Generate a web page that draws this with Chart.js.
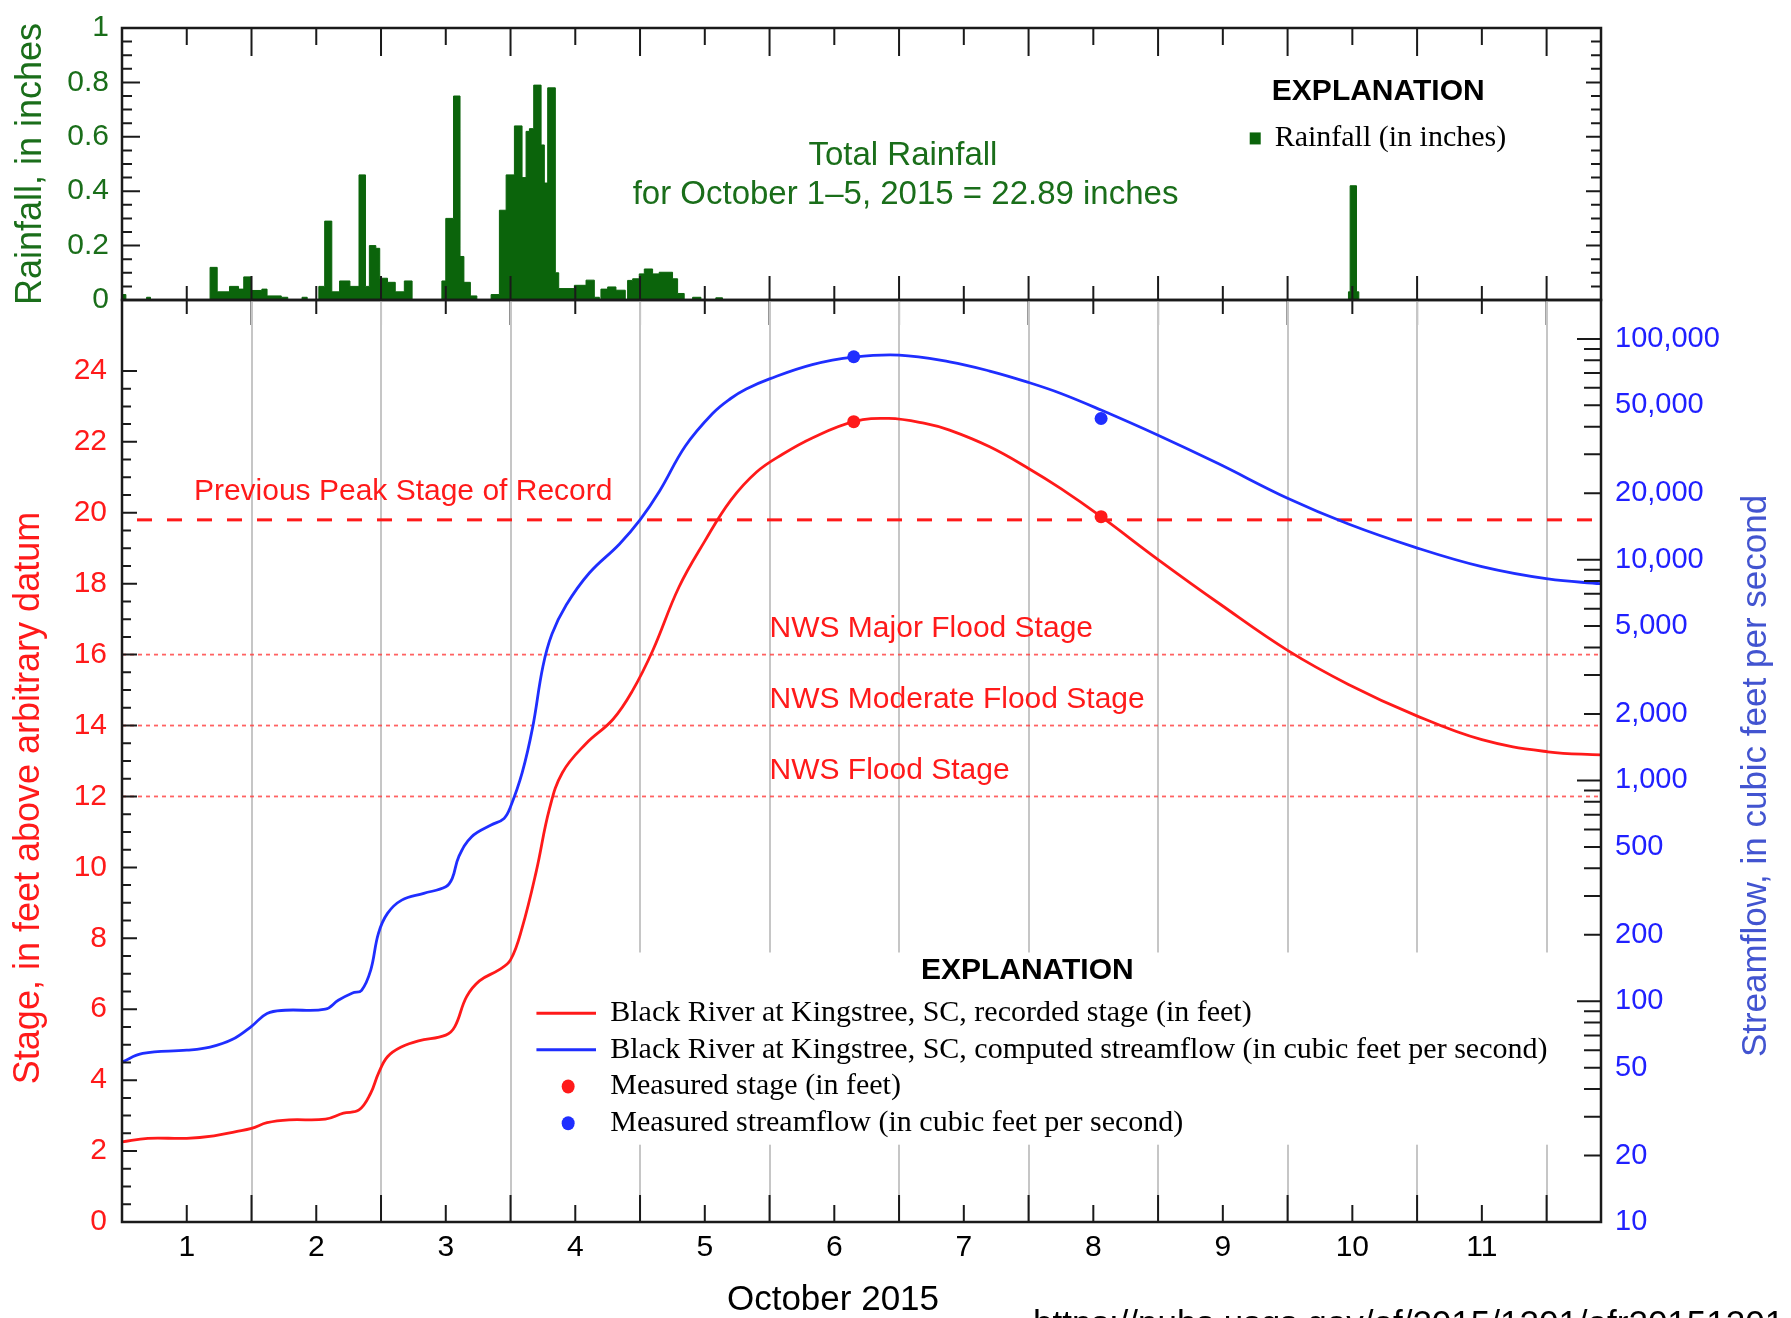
<!DOCTYPE html>
<html lang="en">
<head>
  <meta charset="UTF-8">
  <title>Black River at Kingstree, SC - October 2015</title>
  <script src="https://cdn.jsdelivr.net/npm/chart.js"></script>
  <style>
    body {
      margin: 0;
      background: #ffffff;
      width: 1791px;
      height: 1318px;
      overflow: hidden;
      position: relative;
    }

    canvas {
      position: absolute;
      left: 0;
      top: 0;
    }
  </style>
</head>
<body>
  <canvas id="rainChart" width="1791" height="1318"></canvas>
  <canvas id="stageChart" width="1791" height="1318"></canvas>

  <script>
    // x is days since Oct 1, 00:00
    const X_MAX = 11.42;
    const dayLabels = ['1', '2', '3', '4', '5', '6', '7', '8', '9', '10', '11'];

    // rainfall steps: each value holds until the next start time
    const rainDay = [0, 0.03, 0.19, 0.22, 0.68, 0.735, 0.83, 0.9, 0.94, 1.0, 1.08, 1.12, 1.23, 1.28, 1.39, 1.43,
      1.52, 1.565, 1.62, 1.68, 1.76, 1.83, 1.88, 1.91, 1.96, 1.99, 2.05, 2.11, 2.18, 2.24, 2.47, 2.5, 2.56, 2.61,
      2.64, 2.69, 2.74, 2.85, 2.914, 2.966, 3.03, 3.089, 3.12, 3.146, 3.179, 3.236, 3.261, 3.287, 3.346, 3.372,
      3.493, 3.583, 3.647, 3.686, 3.698, 3.75, 3.814, 3.886, 3.904, 3.943, 3.994, 4.033, 4.097, 4.148, 4.251,
      4.29, 4.341, 4.406, 4.47, 4.585, 4.637, 9.47, 9.483, 9.532, 9.55, 11.42];
    const rainIn = [0.02, 0, 0.01, 0, 0.12, 0.03, 0.05, 0.04, 0.085, 0.035, 0.04, 0.015, 0.01, 0, 0.01, 0,
      0.05, 0.29, 0.03, 0.07, 0.05, 0.46, 0.05, 0.2, 0.19, 0.08, 0.065, 0.03, 0.07, 0, 0.07, 0.30, 0.75, 0.16,
      0.065, 0.015, 0, 0.02, 0.33, 0.46, 0.64, 0.45, 0.62, 0.63, 0.79, 0.57, 0.43, 0.78, 0.10, 0.042,
      0.054, 0.073, 0.01, 0, 0.04, 0.048, 0.036, 0, 0.072, 0.078, 0.096, 0.114, 0.096, 0.102, 0.078,
      0.024, 0, 0.01, 0, 0.008, 0, 0.03, 0.42, 0.03, 0, 0];

    const stageDay = [0, 0.2, 0.5, 0.71, 0.88, 1.0, 1.12, 1.29, 1.57, 1.71, 1.83, 1.92, 1.98, 2.05, 2.16, 2.29,
      2.5, 2.57, 2.66, 2.76, 2.91, 3.0, 3.09, 3.2, 3.3, 3.4, 3.58, 3.79, 3.94, 4.1, 4.3, 4.5, 4.7, 4.9, 5.1,
      5.33, 5.65, 5.92, 6.2, 6.39, 6.7, 7.0, 7.25, 7.56, 8.0, 8.48, 9.0, 9.47, 9.98, 10.5, 11.01, 11.42];
    const stageFt = [2.26, 2.36, 2.36, 2.43, 2.55, 2.64, 2.80, 2.88, 2.90, 3.07, 3.16, 3.63, 4.19, 4.66, 4.94, 5.11,
      5.27, 5.51, 6.35, 6.80, 7.11, 7.39, 8.30, 9.91, 11.64, 12.67, 13.48, 14.17, 14.97, 16.13, 17.9, 19.2, 20.35,
      21.15, 21.65, 22.11, 22.57, 22.66, 22.52, 22.33, 21.86, 21.25, 20.68, 19.89, 18.68, 17.42, 16.12, 15.16, 14.3,
      13.6, 13.26, 13.17];

    const flowDay = [0, 0.16, 0.5, 0.68, 0.85, 1.0, 1.12, 1.26, 1.57, 1.67, 1.78, 1.85, 1.92, 1.98, 2.05, 2.16,
      2.33, 2.5, 2.55, 2.6, 2.7, 2.85, 2.95, 3.0, 3.09, 3.17, 3.25, 3.32, 3.43, 3.61, 3.84, 4.0, 4.15, 4.35, 4.56,
      4.7, 4.82, 5.0, 5.33, 5.65, 6.0, 6.39, 6.7, 7.0, 7.25, 7.56, 8.0, 8.46, 9.0, 9.47, 9.98, 10.5, 11.01, 11.42];
    const flowCfs = [53, 58, 60, 62, 67, 77, 88, 91, 92, 101, 109, 112, 138, 203, 250, 287,
      308, 330, 360, 451, 556, 628, 673, 760, 1085, 1730, 3280, 4600, 6230, 8720, 11750, 15140, 20400, 32700, 45900,
      53700, 59300, 65900, 76500, 82700, 84500, 78700, 71500, 63500, 56600, 47600, 36600, 27300, 18970, 14500, 11400,
      9300, 8180, 7780];

    const measuredDay = [5.65, 7.56];
    const measuredStage = [22.57, 19.89];
    const measuredFlow = [83000, 43600];

    const previousPeak = 19.8;
    const floodStages = [16, 14, 12];
    const floodLabels = ['NWS Major Flood Stage', 'NWS Moderate Flood Stage', 'NWS Flood Stage'];

    const rainTicks = [0, 0.2, 0.4, 0.6, 0.8, 1];
    const stageTicks = [0, 2, 4, 6, 8, 10, 12, 14, 16, 18, 20, 22, 24];
    const flowTicks = [10, 20, 50, 100, 200, 500, 1000, 2000, 5000, 10000, 20000, 50000, 100000];

    const SANS = '"Liberation Sans", Arial, Helvetica, sans-serif';
    const SERIF = '"Liberation Serif", "Times New Roman", serif';
    const RED = '#ff1a1a';
    const BLUE = '#1f2eff';
    const GREEN = '#0b640b';
    const GREEN_TXT = '#1a6e1a';
    const FRAME = '#1a1a1a';

    Chart.defaults.font.family = SANS;

    function pts(xs, ys) {
      return xs.map((x, i) => ({ x, y: ys[i] }));
    }

    // short tick at noon, long tick at midnight; negative length points up
    function xTickMarks(ctx, xs, y, shortLen, longLen) {
      ctx.beginPath();
      for (let d = 0.5; d < X_MAX; d += 0.5) {
        const px = xs.getPixelForValue(d);
        const len = d % 1 === 0 ? longLen : shortLen;
        ctx.moveTo(px, y);
        ctx.lineTo(px, y + len);
      }
      ctx.stroke();
    }

    function yTickMarks(ctx, scale, x, values, lenFn) {
      ctx.beginPath();
      values.forEach(v => {
        const py = scale.getPixelForValue(v);
        ctx.moveTo(x, py);
        ctx.lineTo(x + lenFn(v), py);
      });
      ctx.stroke();
    }

    function rotatedText(ctx, text, x, y, font, color) {
      ctx.save();
      ctx.translate(x, y);
      ctx.rotate(-Math.PI / 2);
      ctx.font = font;
      ctx.fillStyle = color;
      ctx.textAlign = 'center';
      ctx.textBaseline = 'middle';
      ctx.fillText(text, 0, 0);
      ctx.restore();
    }

    const rainDecor = {
      id: 'rainDecor',
      afterDraw(chart) {
        const { ctx, chartArea: a, scales: { x, y } } = chart;
        ctx.save();
        ctx.strokeStyle = FRAME;
        ctx.lineWidth = 2.5;
        ctx.strokeRect(a.left, a.top, a.right - a.left, a.bottom - a.top);

        ctx.lineWidth = 2;
        xTickMarks(ctx, x, a.top, 17, 28);
        xTickMarks(ctx, x, a.bottom, -14, -24);
        xTickMarks(ctx, x, a.bottom, 14, 25);

        const minor = [];
        for (let i = 1; i < 20; i++) minor.push(i * 0.05);
        const isMajor = v => Math.abs(v / 0.2 - Math.round(v / 0.2)) < 1e-6;
        yTickMarks(ctx, y, a.left, minor, v => (isMajor(v) ? 18 : 10));
        yTickMarks(ctx, y, a.right, minor, v => (isMajor(v) ? -15 : -10));

        // total rainfall note
        ctx.fillStyle = GREEN_TXT;
        ctx.font = '33px ' + SANS;
        ctx.textAlign = 'center';
        ctx.textBaseline = 'middle';
        ctx.fillText('Total Rainfall', x.getPixelForValue(6.03), y.getPixelForValue(0.529));
        ctx.fillText('for October 1\u20135, 2015 = 22.89 inches', x.getPixelForValue(6.05), y.getPixelForValue(0.388));

        // explanation
        ctx.fillStyle = '#000';
        ctx.font = 'bold 30px ' + SANS;
        ctx.fillText('EXPLANATION', x.getPixelForValue(9.70), y.getPixelForValue(0.766));
        const ly = y.getPixelForValue(0.594);
        ctx.fillStyle = GREEN;
        ctx.fillRect(x.getPixelForValue(8.75) - 5.5, ly - 6, 11, 12);
        ctx.fillStyle = '#000';
        ctx.font = '30px ' + SERIF;
        ctx.textAlign = 'left';
        ctx.fillText('Rainfall (in inches)', x.getPixelForValue(8.9), ly);
        ctx.restore();
      }
    };

    new Chart(document.getElementById('rainChart'), {
      type: 'line',
      data: {
        datasets: [{
          label: 'Rainfall (in inches)',
          data: pts(rainDay, rainIn),
          stepped: true,
          fill: 'origin',
          backgroundColor: GREEN,
          borderColor: GREEN,
          borderWidth: 1,
          pointRadius: 0
        }]
      },
      options: {
        responsive: false,
        animation: false,
        events: [],
        layout: { padding: { top: 23, bottom: 1018, left: 0, right: 190 } },
        plugins: { legend: { display: false }, tooltip: { enabled: false } },
        scales: {
          x: { type: 'linear', min: 0, max: X_MAX, display: false },
          y: {
            min: 0,
            max: 1,
            afterFit: s => { s.width = 122; },
            afterBuildTicks: s => { s.ticks = rainTicks.map(v => ({ value: v })); },
            grid: { display: false, drawTicks: false },
            border: { display: false },
            ticks: { padding: 13, color: GREEN_TXT, font: { size: 30, lineHeight: 1 }, callback: v => String(v) },
            title: {
              display: true,
              text: 'Rainfall, in inches',
              color: GREEN_TXT,
              font: { size: 36, lineHeight: 1 },
              padding: { top: 13, bottom: 0 }
            }
          }
        }
      },
      plugins: [rainDecor]
    });

    const stageDecor = {
      id: 'stageDecor',
      beforeDatasetsDraw(chart) {
        // blank area behind the explanation box (hides the gridlines)
        const { ctx, scales: { x, yStage } } = chart;
        const l = x.getPixelForValue(3.12), r = x.getPixelForValue(X_MAX);
        const t = yStage.getPixelForValue(7.6), b = yStage.getPixelForValue(2.18);
        ctx.save();
        ctx.fillStyle = '#ffffff';
        ctx.fillRect(l, t, r - l, b - t);
        ctx.restore();
      },
      afterDraw(chart) {
        const { ctx, chartArea: a, scales: { x, yStage, yFlow } } = chart;
        ctx.save();
        ctx.strokeStyle = FRAME;
        ctx.lineWidth = 2.5;
        ctx.strokeRect(a.left, a.top, a.right - a.left, a.bottom - a.top);

        ctx.lineWidth = 2;
        xTickMarks(ctx, x, a.bottom, -17, -27);

        const stMinor = [];
        for (let v = 0.5; v <= 24; v += 0.5) stMinor.push(v);
        yTickMarks(ctx, yStage, a.left, stMinor, v => (v % 2 === 0 ? 15 : 9));

        const flMinor = [];
        for (let e = 1; e <= 4; e++) {
          for (let k = 1; k <= 9; k++) flMinor.push(k * Math.pow(10, e));
        }
        flMinor.push(100000);
        yTickMarks(ctx, yFlow, a.right, flMinor, v => {
          const m = v / Math.pow(10, Math.floor(Math.log10(v) + 1e-9));
          return Math.abs(m - 1) < 1e-6 ? -24 : -17;
        });

        // reference line labels
        ctx.fillStyle = RED;
        ctx.font = '30px ' + SANS;
        ctx.textAlign = 'left';
        ctx.textBaseline = 'middle';
        ctx.fillText('Previous Peak Stage of Record', x.getPixelForValue(0.555), yStage.getPixelForValue(previousPeak + 0.8));
        floodStages.forEach((s, i) => {
          ctx.fillText(floodLabels[i], x.getPixelForValue(5.0), yStage.getPixelForValue(s + 0.73));
        });

        // explanation box
        ctx.fillStyle = '#000';
        ctx.font = 'bold 30px ' + SANS;
        ctx.textAlign = 'center';
        ctx.fillText('EXPLANATION', x.getPixelForValue(6.99), yStage.getPixelForValue(7.08));
        const items = [
          { type: 'line', color: RED, text: 'Black River at Kingstree, SC, recorded stage (in feet)' },
          { type: 'line', color: BLUE, text: 'Black River at Kingstree, SC, computed streamflow (in cubic feet per second)' },
          { type: 'dot', color: RED, text: 'Measured stage (in feet)' },
          { type: 'dot', color: BLUE, text: 'Measured streamflow (in cubic feet per second)' }
        ];
        const row0 = yStage.getPixelForValue(5.89);
        const lx0 = x.getPixelForValue(3.20), lx1 = x.getPixelForValue(3.66), dotX = x.getPixelForValue(3.445);
        const tx = x.getPixelForValue(3.77);
        ctx.font = '30px ' + SERIF;
        ctx.textAlign = 'left';
        items.forEach((it, i) => {
          const ry = row0 + i * 36.7;
          if (it.type === 'line') {
            ctx.strokeStyle = it.color;
            ctx.lineWidth = 3;
            ctx.beginPath();
            ctx.moveTo(lx0, ry);
            ctx.lineTo(lx1, ry);
            ctx.stroke();
          } else {
            ctx.fillStyle = it.color;
            ctx.beginPath();
            ctx.ellipse(dotX, ry, 6.5, 7, 0, 0, Math.PI * 2);
            ctx.fill();
          }
          ctx.fillStyle = '#000';
          ctx.fillText(it.text, tx, ry);
        });

        // axis titles
        rotatedText(ctx, 'Stage, in feet above arbitrary datum', 29, 798, '36px ' + SANS, RED);
        rotatedText(ctx, 'Streamflow, in cubic feet per second', 1756, 776, '35px ' + SANS, '#4254d0');
        ctx.fillStyle = '#000';
        ctx.font = '35px ' + SANS;
        ctx.textAlign = 'center';
        ctx.fillText('October 2015', 833, 1300);

        // source line, cut by the bottom edge
        ctx.font = '35px ' + SANS;
        ctx.textAlign = 'left';
        ctx.textBaseline = 'alphabetic';
        ctx.fillText('https://pubs.usgs.gov/of/2015/1201/ofr20151201', 1033, 1335);
        ctx.restore();
      }
    };

    const refLine = (y, color, width, dash) => ({
      data: [{ x: 0, y }, { x: X_MAX, y }],
      yAxisID: 'yStage',
      borderColor: color,
      borderWidth: width,
      borderDash: dash,
      pointRadius: 0,
      fill: false
    });

    new Chart(document.getElementById('stageChart'), {
      type: 'line',
      data: {
        datasets: [
          {
            label: 'Measured stage (in feet)',
            data: pts(measuredDay, measuredStage),
            yAxisID: 'yStage',
            showLine: false,
            pointRadius: 6.5,
            pointBorderWidth: 0,
            pointBackgroundColor: RED
          },
          {
            label: 'Measured streamflow (in cubic feet per second)',
            data: pts(measuredDay, measuredFlow),
            yAxisID: 'yFlow',
            showLine: false,
            pointRadius: 6.5,
            pointBorderWidth: 0,
            pointBackgroundColor: BLUE
          },
          {
            label: 'Black River at Kingstree, SC, recorded stage (in feet)',
            data: pts(stageDay, stageFt),
            yAxisID: 'yStage',
            borderColor: RED,
            borderWidth: 2.8,
            pointRadius: 0,
            tension: 0.4
          },
          {
            label: 'Black River at Kingstree, SC, computed streamflow (in cubic feet per second)',
            data: pts(flowDay, flowCfs),
            yAxisID: 'yFlow',
            borderColor: BLUE,
            borderWidth: 2.8,
            pointRadius: 0,
            tension: 0.4
          },
          Object.assign(refLine(previousPeak, RED, 3, [15, 15]), { borderDashOffset: 15 }),
          ...floodStages.map(s => refLine(s, 'rgba(255, 60, 60, 0.8)', 1.8, [4, 4]))
        ]
      },
      options: {
        responsive: false,
        animation: false,
        events: [],
        layout: { padding: { top: 300, bottom: 0, left: 0, right: 0 } },
        plugins: { legend: { display: false }, tooltip: { enabled: false } },
        scales: {
          x: {
            type: 'linear',
            min: 0,
            max: X_MAX,
            afterFit: s => { s.height = 96; },
            afterBuildTicks: s => {
              const t = [];
              for (let d = 0.5; d <= 11; d += 0.5) t.push({ value: d });
              s.ticks = t;
            },
            grid: {
              color: c => (c.tick && c.tick.value % 1 === 0 ? '#c6c6c6' : 'rgba(0,0,0,0)'),
              lineWidth: 2,
              drawTicks: false
            },
            border: { display: false },
            ticks: {
              autoSkip: false,
              maxRotation: 0,
              padding: 11,
              color: '#000',
              font: { size: 30, lineHeight: 1 },
              callback: v => (v % 1 !== 0 ? dayLabels[Math.floor(v)] : '')
            }
          },
          yStage: {
            position: 'left',
            min: 0,
            max: 26,
            afterFit: s => { s.width = 122; },
            afterBuildTicks: s => { s.ticks = stageTicks.map(v => ({ value: v })); },
            grid: { display: false, drawTicks: false },
            border: { display: false },
            ticks: { padding: 15, color: RED, font: { size: 30, lineHeight: 1 }, callback: v => String(v) }
          },
          yFlow: {
            type: 'logarithmic',
            position: 'right',
            min: 10,
            max: 150000,
            afterFit: s => { s.width = 190; },
            afterBuildTicks: s => { s.ticks = flowTicks.map(v => ({ value: v })); },
            grid: { display: false, drawTicks: false },
            border: { display: false },
            ticks: {
              autoSkip: false,
              padding: 14,
              color: '#2020ff',
              font: { size: 29, lineHeight: 1 },
              callback: v => Number(v).toLocaleString('en-US')
            }
          }
        }
      },
      plugins: [stageDecor]
    });
  </script>
</body>
</html>
